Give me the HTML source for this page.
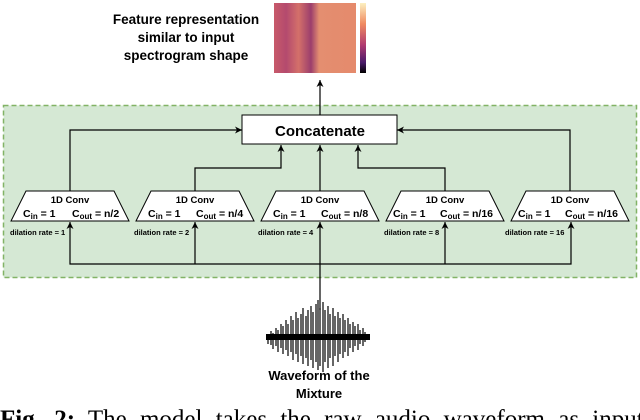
<!DOCTYPE html>
<html><head><meta charset="utf-8"><style>
body{margin:0;background:#fff;width:640px;height:420px;overflow:hidden}
svg{display:block}
.s{font-family:"Liberation Sans",sans-serif}
.r{font-family:"Liberation Serif",serif}
</style></head><body>
<svg width="640" height="420" viewBox="0 0 640 420" xmlns="http://www.w3.org/2000/svg">
<defs>
<marker id="a" markerWidth="8" markerHeight="8" refX="7" refY="4" orient="auto" markerUnits="userSpaceOnUse">
<path d="M0,0.5 L7,4 L0,7.5 L2,4 z" fill="#000"/></marker>
<linearGradient id="sp" x1="0" x2="1">
<stop offset="0" stop-color="#c85a6a"/><stop offset="0.15" stop-color="#b44a6e"/><stop offset="0.3" stop-color="#d4706a"/><stop offset="0.45" stop-color="#9c3e6c"/><stop offset="0.55" stop-color="#e48e70"/><stop offset="1" stop-color="#e58a6c"/></linearGradient>
<linearGradient id="cb" x1="0" y1="0" x2="0" y2="1">
<stop offset="0" stop-color="#fcf0c0"/><stop offset="0.3" stop-color="#f08a60"/><stop offset="0.6" stop-color="#b03a70"/><stop offset="0.85" stop-color="#4a1a6a"/><stop offset="1" stop-color="#000"/></linearGradient>
</defs>
<g class="s">
<text font-weight="bold" font-size="13.5" text-anchor="middle"><tspan x="186" y="24">Feature representation</tspan><tspan x="186" y="42">similar to input</tspan><tspan x="186" y="60">spectrogram shape</tspan></text>
</g>
<rect x="274" y="3" width="82" height="70" fill="url(#sp)"/>
<rect x="360" y="3" width="6" height="70" fill="url(#cb)"/>
<rect x="3.5" y="105.5" width="633" height="172" fill="#d5e8d4" stroke="#82b366" stroke-width="1.5" stroke-dasharray="5,3"/>
<rect x="242" y="115" width="155" height="29" fill="#fff" stroke="#000"/>
<text class="s" x="320" y="136" font-weight="bold" font-size="15" text-anchor="middle">Concatenate</text>
<g fill="none" stroke="#000" stroke-width="1.2" marker-end="url(#a)">
<path d="M320,115 V80"/>
<path d="M70,191 V130 H242"/>
<path d="M195,191 V168 H281 V145"/>
<path d="M320,191 V145"/>
<path d="M445,191 V168 H358 V145"/>
<path d="M570,191 V130 H397"/>
<path d="M320,310 V264 H70 V222"/>
<path d="M195,264 V222"/>
<path d="M320,264 V222"/>
<path d="M445,264 V222"/>
<path d="M320,264 H571 V222"/>
</g>
<g stroke="#000" fill="#fff">
<path d="M26,191 H114 L129,221 H11 z"/>
<path d="M151,191 H239 L254,221 H136 z"/>
<path d="M276,191 H364 L379,221 H261 z"/>
<path d="M401,191 H489 L504,221 H386 z"/>
<path d="M526,191 H614 L629,221 H511 z"/>
</g>
<g class="s" font-size="9.5" font-weight="bold" text-anchor="middle">
<text x="70" y="203">1D Conv</text><text x="195" y="203">1D Conv</text><text x="320" y="203">1D Conv</text><text x="445" y="203">1D Conv</text><text x="570" y="203">1D Conv</text>
</g>
<g class="s" font-size="10.5" font-weight="bold">
<text x="23" y="217">C<tspan font-size="8" dy="2">in</tspan><tspan dy="-2"> = 1</tspan></text>
<text x="72" y="217">C<tspan font-size="8" dy="2">out</tspan><tspan dy="-2"> = n/2</tspan></text>
<text x="148" y="217">C<tspan font-size="8" dy="2">in</tspan><tspan dy="-2"> = 1</tspan></text>
<text x="196" y="217">C<tspan font-size="8" dy="2">out</tspan><tspan dy="-2"> = n/4</tspan></text>
<text x="273" y="217">C<tspan font-size="8" dy="2">in</tspan><tspan dy="-2"> = 1</tspan></text>
<text x="321" y="217">C<tspan font-size="8" dy="2">out</tspan><tspan dy="-2"> = n/8</tspan></text>
<text x="393" y="217">C<tspan font-size="8" dy="2">in</tspan><tspan dy="-2"> = 1</tspan></text>
<text x="440" y="217">C<tspan font-size="8" dy="2">out</tspan><tspan dy="-2"> = n/16</tspan></text>
<text x="518" y="217">C<tspan font-size="8" dy="2">in</tspan><tspan dy="-2"> = 1</tspan></text>
<text x="565" y="217">C<tspan font-size="8" dy="2">out</tspan><tspan dy="-2"> = n/16</tspan></text>
</g>
<g class="s" font-size="7.5" font-weight="bold">
<text x="10" y="235">dilation rate = 1</text>
<text x="134" y="235">dilation rate = 2</text>
<text x="258" y="235">dilation rate = 4</text>
<text x="384" y="235">dilation rate = 8</text>
<text x="505" y="235">dilation rate = 16</text>
</g>
<g stroke="#000" stroke-width="1.2">
<path d="M268,334 V344 M271,331 V345 M273,333 V349 M276,328 V346 M278,330 V352 M281,324 V348 M283,326 V354 M286,320 V350 M288,324 V356 M291,316 V352 M293,320 V360 M296,312 V354 M298,318 V362 M301,314 V356 M303,308 V364 M306,316 V358 M308,310 V366 M311,306 V360 M313,312 V368 M316,304 V362 M318,300 V370 M320,308 V366 M323,302 V372 M325,310 V362 M328,306 V368 M330,314 V358 M333,308 V366 M335,316 V356 M338,312 V362 M340,318 V354 M343,314 V358 M345,320 V352 M348,318 V356 M350,324 V348 M353,322 V352 M355,326 V346 M358,324 V350 M360,330 V344 M363,328 V346 M365,332 V342 M368,334 V340"/>
</g>
<rect x="266" y="334" width="104" height="6" fill="#000"/>
<text class="s" font-weight="bold" font-size="13" text-anchor="middle"><tspan x="319" y="380">Waveform of the</tspan><tspan x="319" y="398">Mixture</tspan></text>
<text class="r" x="0" y="427" font-size="25" word-spacing="7"><tspan font-weight="bold">Fig. 2:</tspan> The model takes the raw audio waveform as input</text>
</svg>
</body></html>
